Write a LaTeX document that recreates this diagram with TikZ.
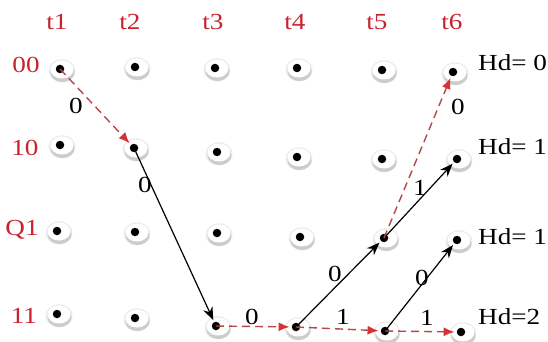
\documentclass[tikz,border=0pt]{standalone}
\usepackage{fontspec}
\setmainfont{Liberation Serif}[FakeStretch=1.18]
\usetikzlibrary{arrows.meta}
\definecolor{lblred}{RGB}{200,35,45}
\definecolor{dashred}{RGB}{185,70,70}
\definecolor{tipred}{RGB}{215,50,50}
\tikzset{
  dotnode/.style={circle, fill=black, minimum size=8.5pt, inner sep=0pt},
  rowlabel/.style={text=lblred, font=\fontsize{23}{25}\selectfont, inner sep=0pt},
  hdlabel/.style={text=black, font=\fontsize{23}{25}\selectfont, inner sep=0pt, anchor=west},
  elabel/.style={text=black, font=\fontsize{23}{25}\selectfont, inner sep=0pt},
  dashedge/.style={draw=dashred, line width=1.4pt, dash pattern=on 8pt off 5pt,
    -{Latex[length=11pt,width=9pt,fill=tipred,color=tipred]}, shorten >=2pt},
  solidedge/.style={draw=black, line width=1.2pt,
    -{Stealth[length=13pt,width=10pt]}, shorten >=2pt},
}
\begin{document}
\begin{tikzpicture}[x=1pt,y=-1pt]
\useasboundingbox[fill=white] (0,0) rectangle (548,342);
% column headers
\foreach \i/\x in {1/57,2/130,3/213,4/295,5/377,6/452}
  \node[rowlabel] (t\i) at (\x,22) {t\i};
% row labels
\node[rowlabel] (r00) at (26,65) {00};
\node[rowlabel] (r10) at (25,148) {10};
\node[rowlabel] (rQ1) at (22,230) {Q1};
\node[rowlabel] (r11) at (24,316) {11};
% dots with halo
\foreach \r/\pts in {a/{60/69,135/67,215/68,297/68,382/70,453/72},
                     b/{60/145,134/148,217/152,297/157,382/159,457/159},
                     c/{57/231,135/232,217/233,300/237,384/238,457/240},
                     d/{57/314,135/318,216/326,296/327,385/331,461/332}}{
  \foreach \x/\y [count=\k] in \pts {
    \fill[gray!15] (\x+2,\y+1.8) ellipse [x radius=13.5, y radius=11.5];
    \fill[gray!40] (\x+2.5,\y+3.5) ellipse [x radius=12, y radius=9.5];
    \fill[white] (\x+2,\y+0.5) ellipse [x radius=11.5, y radius=9];
    \node[dotnode] (\r\k) at (\x,\y) {};
  }
}
% Hd labels
\node[hdlabel] (hd0) at (478,63) {Hd= 0};
\node[hdlabel] (hd1) at (478,147) {Hd= 1};
\node[hdlabel] (hd2) at (478,237) {Hd= 1};
\node[hdlabel] (hd3) at (478,317) {Hd=2};
% edges
\draw[dashedge] (a1.center) -- (b2);
\draw[solidedge] (b2.center) -- (d3);
\draw[dashedge] (d3.center) -- (d4);
\draw[solidedge] (d4.center) -- (c5);
\draw[dashedge] (d4.center) -- (d5);
\draw[solidedge] (c5.center) -- (b6);
\draw[dashedge] (c5.center) -- (a6);
\draw[solidedge] (d5.center) -- (c6);
\draw[dashedge] (d5.center) -- (d6);
% edge labels
\node[elabel] (l1) at (76,106) {0};
\node[elabel] (l2) at (145,185) {0};
\node[elabel] (l3) at (252,317) {0};
\node[elabel] (l4) at (335,274) {0};
\node[elabel] (l5) at (343,317) {1};
\node[elabel] (l6) at (420,188) {1};
\node[elabel] (l7) at (458,107) {0};
\node[elabel] (l8) at (422,278) {0};
\node[elabel] (l9) at (427,318) {1};
\end{tikzpicture}
\end{document}
